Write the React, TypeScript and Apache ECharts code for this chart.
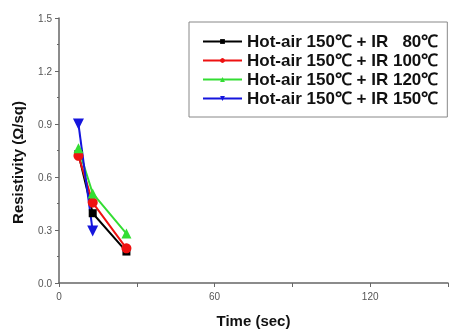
import React, { useEffect, useRef } from "react";
import * as echarts from "echarts";

const times = [7.5, 13, 26];
const blueTimes = [7.5, 13];
const seriesNames = [
  "Hot-air 150℃ + IR   80℃",
  "Hot-air 150℃ + IR 100℃",
  "Hot-air 150℃ + IR 120℃",
  "Hot-air 150℃ + IR 150℃",
];
const ir80 = [0.73, 0.395, 0.178];
const ir100 = [0.72, 0.455, 0.196];
const ir120 = [0.763, 0.507, 0.28];
const ir150 = [0.9, 0.294];
const xLabels = [0, 60, 120];

const FONT = "Liberation Sans, Arial, sans-serif";

export default function App() {
  const ref = useRef<HTMLDivElement>(null);
  useEffect(() => {
    if (!ref.current) return;
    const chart = echarts.init(ref.current, undefined, { renderer: "svg" });
    const pair = (xs: number[], ys: number[]) => xs.map((x, i) => [x, ys[i]]);
    const mk = (name: string, data: number[][], color: string, symbol: string, size: number, rotate = 0) => ({
      name,
      type: "line",
      data,
      symbol,
      symbolSize: size,
      symbolRotate: rotate,
      lineStyle: { color, width: 2 },
      itemStyle: { color },
      color,
    });
    chart.setOption({
      animation: false,
      grid: { left: 59, right: 4, top: 18, bottom: 45 },
      textStyle: { fontFamily: FONT },
      legend: {
        orient: "vertical",
        left: 189,
        top: 22,
        itemWidth: 39,
        itemHeight: 6,
        itemGap: 2,
        padding: [11, 9, 10, 13],
        borderColor: "#888",
        borderWidth: 1,
        backgroundColor: "#fff",
        textStyle: {
          fontSize: 17,
          lineHeight: 17,
          fontWeight: "bold",
          color: "#111",
          fontFamily: FONT,
        },
        data: seriesNames,
      },
      xAxis: {
        type: "value",
        min: 0,
        max: 150,
        interval: 30,
        name: "Time (sec)",
        nameLocation: "middle",
        nameGap: 30,
        nameTextStyle: { fontSize: 15, fontWeight: "bold", color: "#111" },
        axisLine: { lineStyle: { color: "#666", width: 1.5 } },
        axisTick: { lineStyle: { color: "#666" }, length: 4 },
        splitLine: { show: false },
        axisLabel: {
          color: "#555",
          fontSize: 10,
          margin: 8,
          formatter: (v: number) => (xLabels.includes(v) ? String(v) : ""),
        },
      },
      yAxis: {
        type: "value",
        min: 0,
        max: 1.5,
        interval: 0.3,
        name: "Resistivity (Ω/sq)",
        nameLocation: "middle",
        nameGap: 34,
        nameTextStyle: { fontSize: 15, fontWeight: "bold", color: "#111", padding: [0, 24, 0, 0] },
        axisLine: { show: true, lineStyle: { color: "#666", width: 1.5 } },
        axisTick: { show: true, lineStyle: { color: "#666" }, length: 4 },
        minorTick: { show: true, splitNumber: 2, length: 2, lineStyle: { color: "#666" } },
        splitLine: { show: false },
        axisLabel: { color: "#555", fontSize: 10, margin: 7, formatter: (v: number) => v.toFixed(1) },
      },
      series: [
        mk(seriesNames[0], pair(times, ir80), "#000000", "rect", 8),
        mk(seriesNames[1], pair(times, ir100), "#ee1111", "circle", 10),
        mk(seriesNames[2], pair(times, ir120), "#33dd33", "triangle", 10),
        mk(seriesNames[3], pair(blueTimes, ir150), "#1515dd", "triangle", 11, 180),
      ],
    });
    return () => chart.dispose();
  }, []);
  return (
    <div
      ref={ref}
      style={{ width: 452, height: 333, position: "fixed", left: 0, top: 0 }}
    />
  );
}
